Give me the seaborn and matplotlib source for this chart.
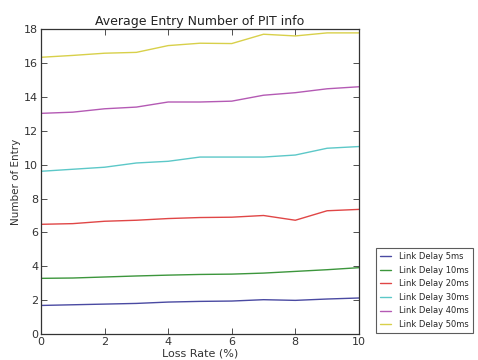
import matplotlib
matplotlib.use("Agg")
import matplotlib.pyplot as plt
import seaborn as sns
import pandas as pd

loss_rate = [0, 1, 2, 3, 4, 5, 6, 7, 8, 9, 10]
delay_5ms = [1.69, 1.73, 1.77, 1.81, 1.89, 1.93, 1.95, 2.03, 1.99, 2.07, 2.13]
delay_10ms = [3.29, 3.31, 3.37, 3.43, 3.48, 3.52, 3.54, 3.60, 3.70, 3.80, 3.92]
delay_20ms = [6.48, 6.52, 6.66, 6.72, 6.82, 6.88, 6.90, 7.00, 6.72, 7.28, 7.36]
delay_30ms = [9.61, 9.73, 9.85, 10.10, 10.20, 10.45, 10.45, 10.45, 10.57, 10.97, 11.07]
delay_40ms = [13.03, 13.10, 13.30, 13.40, 13.70, 13.70, 13.75, 14.10, 14.25, 14.48, 14.60]
delay_50ms = [16.34, 16.45, 16.58, 16.63, 17.03, 17.17, 17.15, 17.70, 17.60, 17.78, 17.78]
series_names = ["Link Delay 5ms", "Link Delay 10ms", "Link Delay 20ms",
                "Link Delay 30ms", "Link Delay 40ms", "Link Delay 50ms"]
series_values = [delay_5ms, delay_10ms, delay_20ms, delay_30ms, delay_40ms, delay_50ms]
colors = ["#4a4aa2", "#3c963c", "#e04646", "#5cc8c8", "#b45ab4", "#d8d04a"]

rows = []
for name, vals in zip(series_names, series_values):
    for x, v in zip(loss_rate, vals):
        rows.append({"Loss Rate (%)": x, "Number of Entry": v, "series": name})
df = pd.DataFrame(rows)

sns.set_theme(style="white")
plt.rcParams["font.family"] = ["DejaVu Sans"]
plt.rcParams["xtick.direction"] = "in"
plt.rcParams["ytick.direction"] = "in"

fig = plt.figure(figsize=(4.78, 3.6), dpi=100)
ax = fig.add_axes([0.0858, 0.072, 0.665, 0.847])
sns.lineplot(data=df, x="Loss Rate (%)", y="Number of Entry", hue="series",
             hue_order=series_names, palette=colors, linewidth=1.0, ax=ax)
ax.set_xlim(0, 10)
ax.set_ylim(0, 18)
ax.set_xticks([0, 2, 4, 6, 8, 10])
ax.set_yticks([0, 2, 4, 6, 8, 10, 12, 14, 16, 18])
ax.tick_params(axis="both", labelsize=8, colors="#333333", length=4, width=0.6,
               top=True, right=True, bottom=True, left=True, pad=2)
for s in ax.spines.values():
    s.set_color("#333333")
    s.set_linewidth(0.9)
ax.set_title("Average Entry Number of PIT info", fontsize=9, color="#222222", pad=3)
ax.set_xlabel("Loss Rate (%)", fontsize=8, color="#333333", labelpad=1)
ax.set_ylabel("Number of Entry", fontsize=7.5, color="#333333", labelpad=2)
leg = ax.legend(loc="lower left", bbox_to_anchor=(1.05, 0.0), fontsize=6.0,
                frameon=True, fancybox=False, handlelength=1.4, borderpad=0.5,
                labelspacing=0.55, handletextpad=0.9, borderaxespad=0.1)
leg.get_frame().set_edgecolor("#333333")
leg.get_frame().set_linewidth(0.8)
fig.savefig("out.png", dpi=100)
